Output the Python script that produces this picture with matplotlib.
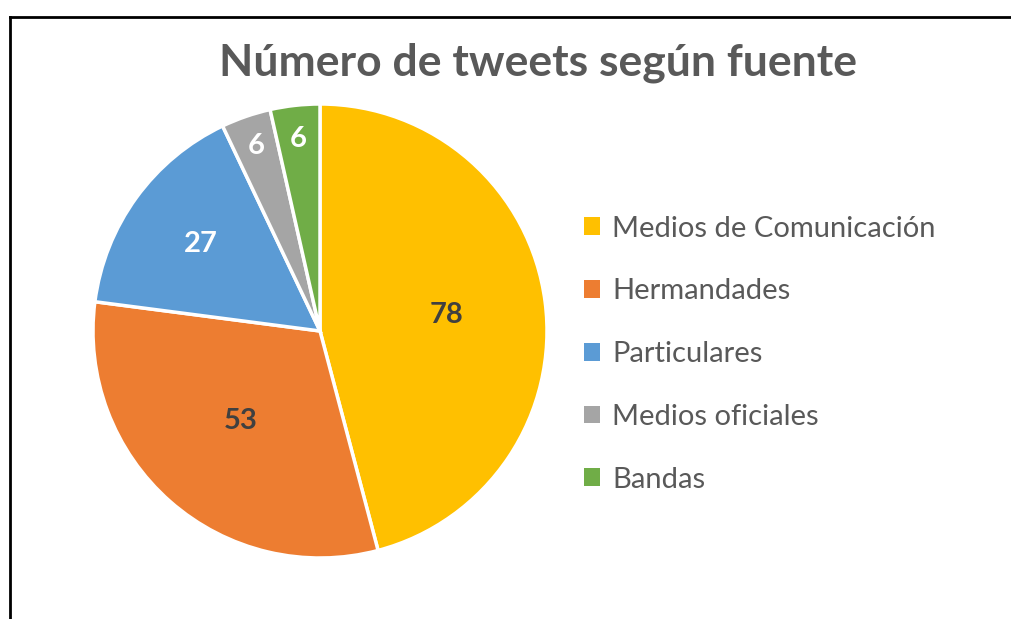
import matplotlib.pyplot as plt
import numpy as np

fuentes = [
	'Medios de Comunicación',
	'Hermandades',
	'Particulares',
	'Medios oficiales',
	'Bandas',
]
tweets = [78, 53, 27, 6, 6]
colores = ['#FFC000', '#ED7D31', '#5B9BD5', '#A5A5A5', '#70AD47']
color_etiqueta = ['#404040', '#404040', 'white', 'white', 'white']
dist_etiqueta = [0.56, 0.53, 0.65, 0.86, 0.85]

plt.rcParams['font.family'] = ['Lato', 'DejaVu Sans']

fig = plt.figure(figsize=(10.11, 6.19), dpi=100)
ax = fig.add_axes([(320 - 227) / 1011, (619 - 558) / 619, 454 / 1011, 454 / 619])

wedges, _ = ax.pie(
	tweets,
	colors=colores,
	startangle=90,
	counterclock=False,
	radius=1,
	wedgeprops=dict(edgecolor='white', linewidth=2.5),
)
ax.set_xlim(-1.0, 1.0)
ax.set_ylim(-1.0, 1.0)
ax.set_aspect('equal')

# etiquetas de valor dentro de cada sector
for w, v, c, d in zip(wedges, tweets, color_etiqueta, dist_etiqueta):
	ang = np.deg2rad((w.theta1 + w.theta2) / 2)
	ax.text(d * np.cos(ang), d * np.sin(ang), str(v), ha='center', va='center',
		fontsize=21, fontweight='bold', color=c)

fig.text(0.532, 1 - 63 / 619, 'Número de tweets según fuente', ha='center', va='center',
	fontsize=32, fontweight='bold', color='#595959')

leg = fig.legend(
	wedges, fuentes,
	loc='center left', bbox_to_anchor=(0.552, 0.428),
	frameon=False, fontsize=21, labelcolor='#595959',
	handlelength=0.55, handleheight=0.55, handletextpad=0.4,
	labelspacing=1.26,
)
for h in leg.legend_handles:
	h.set_linewidth(0)

# marco del gráfico (solo se ven los bordes superior e izquierdo)
fig.add_artist(plt.Line2D([10 / 1011, 10 / 1011], [0, 1 - 17 / 619], color='black', lw=2))
fig.add_artist(plt.Line2D([10 / 1011, 1], [1 - 17 / 619, 1 - 17 / 619], color='black', lw=2))

fig.savefig('out.png', dpi=100)
